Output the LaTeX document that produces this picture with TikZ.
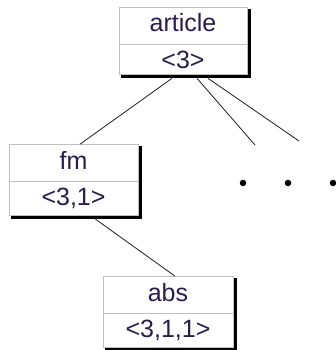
\documentclass[tikz,border=0pt]{standalone}
\usepackage{fontspec}
\setmainfont{Liberation Sans}
\usetikzlibrary{shapes.multipart,calc}
\definecolor{boxedge}{RGB}{192,192,192}
\definecolor{ink}{RGB}{40,28,80}
\definecolor{wire}{RGB}{30,30,30}
\tikzset{
  treebox/.style={rectangle split, rectangle split parts=2,
    draw=boxedge, line width=1pt, fill=white,
    rectangle split part fill={white},
    text height=18pt, text depth=6pt, inner ysep=6pt, inner xsep=2pt,
    font=\fontsize{25}{28}\selectfont, text=ink},
  shade line/.style={draw=black, line width=3pt, line cap=butt},
  edge/.style={draw=wire, line width=0.8pt},
  dot/.style={circle, fill=black, inner sep=0pt, minimum size=6.5pt}
}
\begin{document}
\begin{tikzpicture}[x=1pt, y=-1pt]
  \useasboundingbox (0,0) rectangle (336,350);
  \clip (0,0) rectangle (336,350);

  % record boxes: name over key
  \node[treebox, minimum width=128pt] (art) at (183,41)
    {article\nodepart{two}<3>};
  \node[treebox, minimum width=129pt] (fm) at (73.5,180)
    {fm\nodepart{two}<3,1>};
  \node[treebox, minimum width=130pt] (abs) at (168,312)
    {abs\nodepart{two}<3,1,1>};

  % drop shadows on the right and bottom edges
  \foreach \b in {art,fm,abs}{
    \draw[shade line]
      ($(\b.north east)+(1.5,2)$) -- ($(\b.south east)+(1.5,1.5)$)
      -- ($(\b.south west)+(2,1.5)$);
  }

  % loose ends of the unfinished branches
  \coordinate (e1) at (255,145);
  \coordinate (e2) at (299,141);

  % tree edges
  \draw[edge] ($(art.south)+(-11,3)$) -- (fm.north -| 80,0);
  \draw[edge] ($(art.south)+(14,3)$) -- (e1);
  \draw[edge] ($(art.south)+(25,3)$) -- (e2);
  \draw[edge] ($(fm.south)+(21.5,3)$) -- ($(abs.north)+(7,0)$);

  % ellipsis for the omitted children
  \node[dot] (d1) at (243,183) {};
  \node[dot] (d2) at (288,183) {};
  \node[dot] (d3) at (333,183) {};
\end{tikzpicture}
\end{document}
